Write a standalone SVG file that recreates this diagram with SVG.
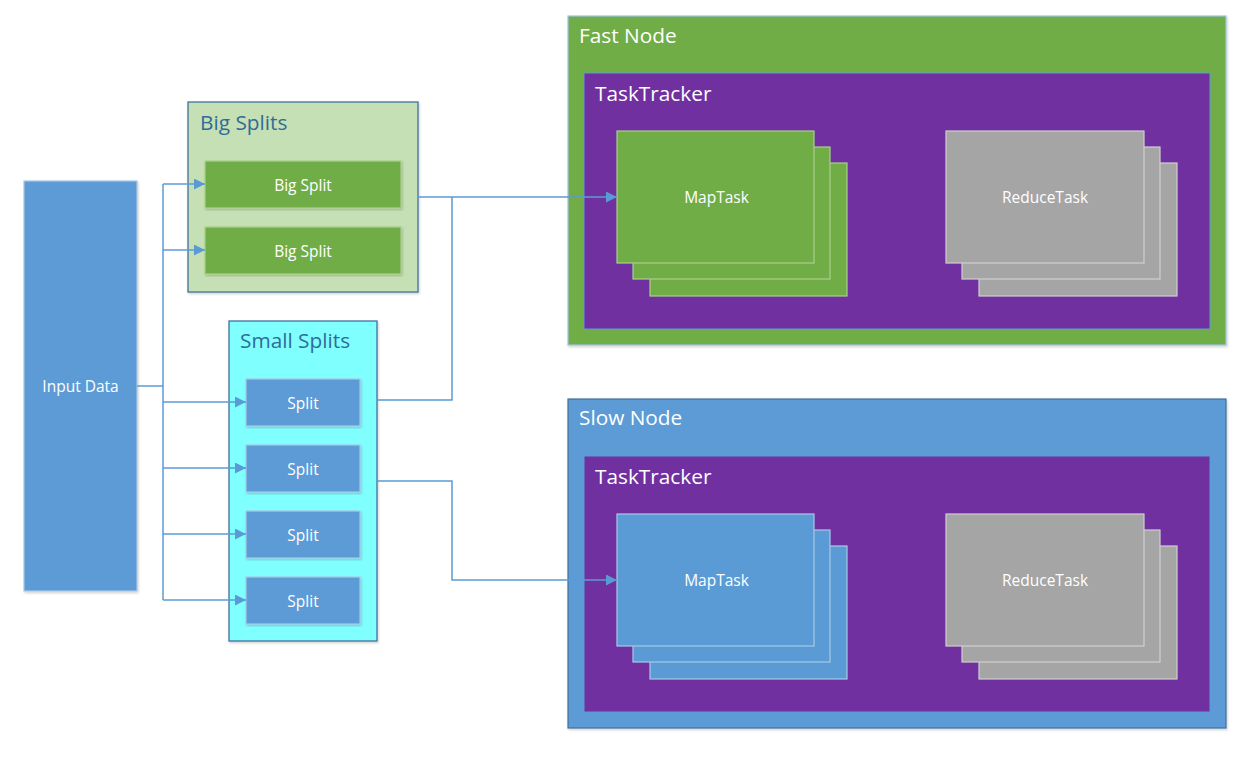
<svg xmlns="http://www.w3.org/2000/svg" width="1242" height="759" viewBox="0 0 1242 759">
<style>
text{font-family:"Open Sans","Noto Sans","Liberation Sans",sans-serif}
.lbl{fill:#ffffff;font-size:15.5px;text-anchor:middle;dominant-baseline:central}
.ttl{fill:#ffffff;font-size:20.8px}
.gttl{fill:#2f6c99;font-size:20.8px}
.blue{fill:#5b9bd5;stroke:#a9c8e6;stroke-width:1.2}
.green{fill:#70ad47;stroke:#a8d08d;stroke-width:1.2}
.gray{fill:#a5a5a5;stroke:#cfcfcf;stroke-width:1.2}
.purple{fill:#7030a0;stroke:#5b9bd5;stroke-width:1}
.cont{stroke:#41719c;stroke-width:1.3}
.conn{fill:none;stroke:#5b9bd5;stroke-width:1.5}
</style>
<defs>
<marker id="arr" viewBox="0 0 10 10" refX="10" refY="5" markerWidth="11" markerHeight="11" markerUnits="userSpaceOnUse" orient="auto"><path d="M0,0 L10,5 L0,10 z" fill="#5b9bd5"/></marker>
<filter id="sh" x="-5%" y="-5%" width="110%" height="110%"><feDropShadow dx="1" dy="1.5" stdDeviation="1.2" flood-color="#000" flood-opacity="0.18"/></filter>
</defs>
<rect width="1242" height="759" fill="#ffffff"/>

<g id="input-data">
<rect class="blue" x="24" y="181" width="113" height="410" filter="url(#sh)"/>
<text class="lbl" x="80.5" y="386">Input Data</text>
</g>

<g id="big-splits">
<rect class="cont" x="188" y="102" width="230" height="190" fill="#c5e0b4" filter="url(#sh)"/>
<text class="gttl" x="200" y="130">Big Splits</text>
</g>
<g id="big-split-1">
<rect class="green" x="205" y="161" width="196" height="47" filter="url(#sh)"/>
<text class="lbl" x="303" y="184.5">Big Split</text>
</g>
<g id="big-split-2">
<rect class="green" x="205" y="227" width="196" height="47" filter="url(#sh)"/>
<text class="lbl" x="303" y="250.5">Big Split</text>
</g>

<g id="small-splits">
<rect class="cont" x="229" y="321" width="148" height="320" fill="#80ffff" filter="url(#sh)"/>
<text class="gttl" x="240" y="348">Small Splits</text>
</g>
<g id="split-1">
<rect class="blue" x="246" y="379" width="114" height="47" filter="url(#sh)"/>
<text class="lbl" x="303" y="402.5">Split</text>
</g>
<g id="split-2">
<rect class="blue" x="246" y="445" width="114" height="47" filter="url(#sh)"/>
<text class="lbl" x="303" y="468.5">Split</text>
</g>
<g id="split-3">
<rect class="blue" x="246" y="511" width="114" height="47" filter="url(#sh)"/>
<text class="lbl" x="303" y="534.5">Split</text>
</g>
<g id="split-4">
<rect class="blue" x="246" y="577" width="114" height="47" filter="url(#sh)"/>
<text class="lbl" x="303" y="600.5">Split</text>
</g>

<g id="fast-node">
<rect x="568" y="16" width="658" height="329" fill="#70ad47" stroke="#9dc3e6" stroke-width="1.2" filter="url(#sh)"/>
<text class="ttl" x="579" y="43">Fast Node</text>
</g>
<g id="fast-tasktracker">
<rect class="purple" x="584" y="73" width="626" height="256"/>
<text class="ttl" x="595" y="101">TaskTracker</text>
</g>
<g id="fast-maptask">
<rect class="green" x="650" y="163" width="197" height="133" stroke="#c8d6c0"/>
<rect class="green" x="633" y="147" width="197" height="132" stroke="#c8d6c0"/>
<rect class="green" x="617" y="131" width="197" height="132" stroke="#c8d6c0"/>
<text class="lbl" x="716.5" y="197">MapTask</text>
</g>
<g id="fast-reducetask">
<rect class="gray" x="979" y="163" width="198" height="133"/>
<rect class="gray" x="962" y="147" width="198" height="132"/>
<rect class="gray" x="946" y="131" width="198" height="132"/>
<text class="lbl" x="1045" y="197">ReduceTask</text>
</g>

<g id="slow-node">
<rect x="568" y="399" width="658" height="329" fill="#5b9bd5" stroke="#41719c" stroke-width="1.2" filter="url(#sh)"/>
<text class="ttl" x="579" y="425">Slow Node</text>
</g>
<g id="slow-tasktracker">
<rect class="purple" x="584" y="456" width="626" height="256"/>
<text class="ttl" x="595" y="484">TaskTracker</text>
</g>
<g id="slow-maptask">
<rect class="blue" x="650" y="546" width="197" height="133" stroke="#c2d4e8"/>
<rect class="blue" x="633" y="530" width="197" height="132" stroke="#c2d4e8"/>
<rect class="blue" x="617" y="514" width="197" height="132" stroke="#c2d4e8"/>
<text class="lbl" x="716.5" y="580">MapTask</text>
</g>
<g id="slow-reducetask">
<rect class="gray" x="979" y="546" width="198" height="133"/>
<rect class="gray" x="962" y="530" width="198" height="132"/>
<rect class="gray" x="946" y="514" width="198" height="132"/>
<text class="lbl" x="1045" y="580">ReduceTask</text>
</g>

<g id="connectors">
<path class="conn" d="M137,386 H163"/>
<path class="conn" d="M163,184 V600"/>
<path class="conn" d="M163,184 H205" marker-end="url(#arr)"/>
<path class="conn" d="M163,250 H205" marker-end="url(#arr)"/>
<path class="conn" d="M163,402 H246" marker-end="url(#arr)"/>
<path class="conn" d="M163,468 H246" marker-end="url(#arr)"/>
<path class="conn" d="M163,534 H246" marker-end="url(#arr)"/>
<path class="conn" d="M163,600 H246" marker-end="url(#arr)"/>
<path class="conn" d="M418,197 H617" marker-end="url(#arr)"/>
<path class="conn" d="M377,400 H452 V197"/>
<path class="conn" d="M377,481 H452 V580 H617" marker-end="url(#arr)"/>
</g>
</svg>
